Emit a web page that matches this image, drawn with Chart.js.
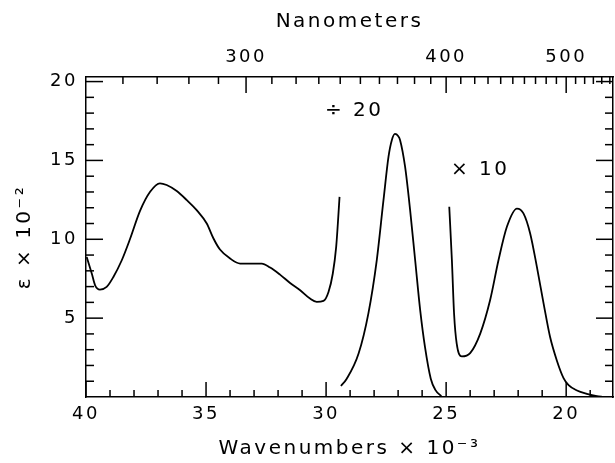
<!DOCTYPE html>
<html>
<head>
<meta charset="utf-8">
<script src="https://cdn.jsdelivr.net/npm/chart.js@4.4.1/dist/chart.umd.min.js"></script>
<style>
    html, body { margin: 0; padding: 0; background: #fff; }
    #wrap { width: 615px; height: 463px; }
</style>
</head>
<body>
<div id="wrap"><canvas id="spectrum" width="615" height="463"></canvas></div>
<script>
// UV band, true scale
const uvWavenumber = [39.97, 39.76, 39.62, 39.42, 39.14, 38.86, 38.51, 38.17, 37.75, 37.33, 36.92, 36.64, 36.22, 35.80, 35.39, 34.97, 34.69, 34.42, 34.00, 33.58, 33.17, 32.68, 32.33, 31.92, 31.50, 31.08, 30.67, 30.39, 30.11, 29.90, 29.72, 29.58, 29.51, 29.44];
const uvEpsilon = [8.88, 7.83, 7.08, 6.81, 6.98, 7.61, 8.67, 10.00, 11.80, 13.01, 13.55, 13.44, 13.06, 12.48, 11.85, 11.00, 10.05, 9.35, 8.78, 8.46, 8.46, 8.46, 8.21, 7.76, 7.23, 6.77, 6.24, 6.03, 6.09, 6.66, 7.83, 9.52, 11.00, 12.69];

// strong band, plotted divided by 20
const strongWavenumber = [29.38, 29.14, 28.65, 28.24, 27.89, 27.61, 27.40, 27.26, 27.13, 27.00, 26.92, 26.71, 26.50, 26.29, 26.08, 25.88, 25.64, 25.45, 25.20];
const strongEpsilon = [0.70, 1.16, 2.74, 5.29, 8.67, 12.48, 15.24, 16.30, 16.68, 16.55, 16.30, 14.60, 11.85, 8.67, 5.49, 3.16, 1.16, 0.45, 0.05];

// weak visible band, plotted times 10
const weakWavenumber = [24.87, 24.76, 24.67, 24.56, 24.35, 24.00, 23.58, 23.17, 22.82, 22.47, 22.05, 21.78, 21.50, 21.22, 20.94, 20.67, 20.39, 20.11, 19.90, 19.55, 19.14, 18.72, 18.45];
const weakEpsilon = [12.06, 8.67, 5.29, 3.38, 2.57, 2.78, 4.02, 6.13, 8.67, 10.79, 11.95, 11.64, 10.37, 8.25, 5.92, 3.80, 2.32, 1.20, 0.75, 0.41, 0.20, 0.05, 0.00];

const wavenumberTicks = [40, 35, 30, 25, 20];
const nanometerTicks = [300, 400, 500];
const epsilonTicks = [5, 10, 15, 20];

const bandLabels = [
    { text: '\u00f7 20', x: 28.83, y: 18.16 },
    { text: '\u00d7 10', x: 23.58, y: 14.39 }
];

const X_MIN = 18.05, X_MAX = 40, Y_MAX = 20.29;

function toPoints(xs, ys) {
    return xs.map((x, i) => ({ x, y: ys[i] }));
}

function lineSet(xs, ys) {
    return {
        data: toPoints(xs, ys),
        showLine: true,
        borderColor: '#000',
        borderWidth: 1.8,
        pointRadius: 0,
        cubicInterpolationMode: 'monotone',
        xAxisID: 'x',
        yAxisID: 'y'
    };
}

function strokeTicks(ctx, scale, values, len) {
    const area = scale.chart.chartArea;
    values.forEach(v => {
        const p = scale.getPixelForValue(v);
        ctx.beginPath();
        if (scale.position === 'bottom') { ctx.moveTo(p, area.bottom); ctx.lineTo(p, area.bottom - len); }
        else if (scale.position === 'top') { ctx.moveTo(p, area.top); ctx.lineTo(p, area.top + len); }
        else if (scale.position === 'left') { ctx.moveTo(area.left, p); ctx.lineTo(area.left + len, p); }
        else { ctx.moveTo(area.right, p); ctx.lineTo(area.right - len, p); }
        ctx.stroke();
    });
}

// the original lettering is a wide plotter font, so space the glyphs out a bit
const wideLetters = {
    id: 'wideLetters',
    beforeDraw(chart) { chart.ctx.letterSpacing = '2.5px'; }
};

const innerTicks = {
    id: 'innerTicks',
    afterDraw(chart) {
        const ctx = chart.ctx;
        const s = chart.scales;
        ctx.save();
        ctx.strokeStyle = '#000';
        ctx.lineWidth = 1.5;

        const wnMinor = [];
        for (let v = 19; v <= 39; v++) if (v % 5) wnMinor.push(v);
        strokeTicks(ctx, s.x, wavenumberTicks, 15);
        strokeTicks(ctx, s.x, wnMinor, 7);

        const nmMinor = [];
        for (let nm = 260; nm <= 550; nm += 10) if (nm % 100) nmMinor.push(1e4 / nm);
        strokeTicks(ctx, s.x2, nanometerTicks.map(nm => 1e4 / nm), 16);
        strokeTicks(ctx, s.x2, nmMinor, 7);

        const epMinor = [];
        for (let v = 1; v <= 19; v++) if (v % 5) epMinor.push(v);
        strokeTicks(ctx, s.y, epsilonTicks, 17);
        strokeTicks(ctx, s.y, epMinor, 8);
        strokeTicks(ctx, s.y2, epsilonTicks, 17);
        strokeTicks(ctx, s.y2, epMinor, 8);

        ctx.fillStyle = '#000';
        ctx.font = '20px "DejaVu Sans"';
        ctx.textAlign = 'center';
        ctx.textBaseline = 'middle';
        bandLabels.forEach(l => {
            ctx.fillText(l.text, s.x.getPixelForValue(l.x), s.y.getPixelForValue(l.y));
        });
        ctx.restore();
    }
};

Chart.defaults.font.family = '"DejaVu Sans"';
Chart.defaults.font.size = 18;
Chart.defaults.color = '#000';

const border = { display: true, color: '#000', width: 1.5 };
const noGrid = { display: false, drawTicks: false };
const titleFont = { size: 20 };

new Chart(document.getElementById('spectrum'), {
    type: 'scatter',
    data: {
        datasets: [
            lineSet(uvWavenumber, uvEpsilon),
            lineSet(strongWavenumber, strongEpsilon),
            lineSet(weakWavenumber, weakEpsilon)
        ]
    },
    options: {
        responsive: false,
        animation: false,
        devicePixelRatio: 1,
        layout: { padding: 0 },
        plugins: { legend: { display: false }, tooltip: { enabled: false } },
        scales: {
            x: {
                type: 'linear', position: 'bottom', reverse: true,
                min: X_MIN, max: X_MAX,
                grid: noGrid, border,
                afterBuildTicks: sc => { sc.ticks = wavenumberTicks.map(v => ({ value: v })); },
                afterFit: sc => { sc.height = 66; },
                ticks: { padding: 7, maxRotation: 0, autoSkip: false },
                title: { display: true, text: 'Wavenumbers \u00d7 10\u207b\u00b3', font: titleFont, padding: { top: 0, bottom: 2 } }
            },
            x2: {
                type: 'linear', position: 'top', reverse: true,
                min: X_MIN, max: X_MAX,
                grid: noGrid, border,
                afterBuildTicks: sc => { sc.ticks = nanometerTicks.map(nm => ({ value: 1e4 / nm })); },
                afterFit: sc => { sc.height = 77; },
                ticks: { padding: 9, maxRotation: 0, autoSkip: false, callback: v => Math.round(1e4 / v) },
                title: { display: true, text: 'Nanometers', font: titleFont, padding: { top: 10, bottom: 0 } }
            },
            y: {
                type: 'linear', position: 'left',
                min: 0, max: Y_MAX,
                grid: noGrid, border,
                afterBuildTicks: sc => { sc.ticks = epsilonTicks.map(v => ({ value: v })); },
                afterFit: sc => { sc.width = 86; },
                ticks: { padding: 8, autoSkip: false },
                title: { display: true, text: '\u03b5 \u00d7 10\u207b\u00b2', font: titleFont, padding: { top: 13, bottom: 0 } }
            },
            y2: {
                type: 'linear', position: 'right',
                min: 0, max: Y_MAX,
                grid: noGrid, border,
                ticks: { display: false },
                afterFit: sc => { sc.width = 2; }
            }
        }
    },
    plugins: [wideLetters, innerTicks]
});
</script>
</body>
</html>
